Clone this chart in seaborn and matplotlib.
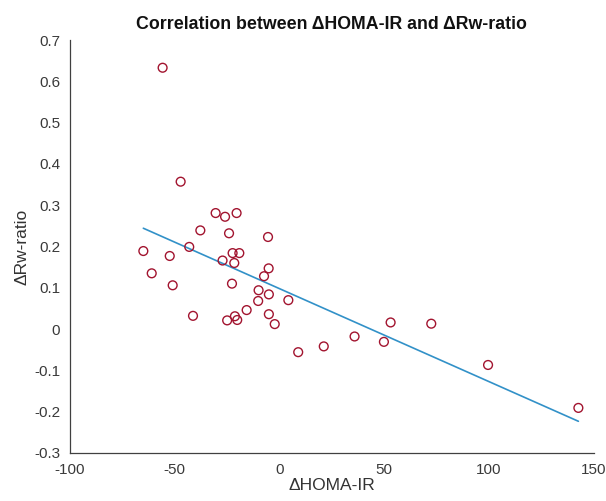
import pandas as pd
import seaborn as sns
import matplotlib
import matplotlib.pyplot as plt

matplotlib.use('Agg')
sns.set_style("white")
plt.rcParams['font.family'] = ['Liberation Sans', 'DejaVu Sans']
plt.rcParams['axes.unicode_minus'] = False

# Valores
delta_homa_ir = [-55.8, -47.2, -30.5, -26.0, -20.5, -37.8, -24.1, -5.5, -65.0, -52.4,
                 -43.1, -22.4, -19.2, -27.2, -21.6, -5.2, -7.4, -61.0, -51.0, -22.7,
                 -10.0, -5.1, -10.2, 4.2, -41.3, -15.7, -5.1, -21.3, -25.0, -20.2,
                 -2.3, 8.9, 21.1, 35.8, 49.8, 53.0, 72.4, 99.5, 142.6]
delta_rw_ratio = [0.633, 0.357, 0.281, 0.272, 0.281, 0.239, 0.232, 0.223, 0.189, 0.177,
                  0.199, 0.184, 0.184, 0.166, 0.160, 0.147, 0.128, 0.135, 0.106, 0.110,
                  0.094, 0.084, 0.068, 0.070, 0.032, 0.046, 0.036, 0.031, 0.021, 0.022,
                  0.012, -0.056, -0.042, -0.018, -0.031, 0.016, 0.013, -0.087, -0.191]
x_ticks = [-100, -50, 0, 50, 100, 150]
y_ticks = [-0.3, -0.2, -0.1, 0, 0.1, 0.2, 0.3, 0.4, 0.5, 0.6, 0.7]

df = pd.DataFrame({'HOMA': delta_homa_ir, 'Rw': delta_rw_ratio})

color_puntos = '#A2142F'
color_linea = '#3291C8'
color_ejes = '#404040'

fig, ax = plt.subplots(figsize=(6.06, 5.01), dpi=100)
fig.subplots_adjust(left=0.1155, right=0.98, top=0.92, bottom=0.096)

# Puntos huecos
sns.scatterplot(data=df, x='HOMA', y='Rw', ax=ax, s=40, marker='o',
                facecolor='none', edgecolor=color_puntos, linewidth=1.0, zorder=3)

# Recta de regresión
sns.regplot(data=df, x='HOMA', y='Rw', ax=ax, scatter=False, ci=None,
            line_kws=dict(color=color_linea, linewidth=1.2), truncate=True)

ax.set_xlim(-100, 150)
ax.set_ylim(-0.3, 0.7)
ax.set_xticks(x_ticks)
ax.set_yticks(y_ticks)
ax.set_yticklabels([f'{v:g}' for v in y_ticks])

for lado in ['top', 'right']:
    ax.spines[lado].set_visible(False)
for lado in ['left', 'bottom']:
    ax.spines[lado].set_color(color_ejes)
    ax.spines[lado].set_linewidth(0.9)

ax.tick_params(direction='in', length=4, width=0.8, colors=color_ejes,
               labelsize=11, labelcolor='#3a3a3a')
ax.tick_params(axis='x', pad=7)
ax.tick_params(axis='y', pad=7)

ax.set_xlabel('ΔHOMA-IR', fontsize=12.5, color='#333333', labelpad=1)
ax.set_ylabel('ΔRw-ratio', fontsize=12.5, color='#333333', labelpad=3)
ax.set_title('Correlation between ΔHOMA-IR and ΔRw-ratio', fontsize=12.8,
             fontweight='bold', color='#111111', pad=8)

plt.savefig('out.png')
plt.close()
